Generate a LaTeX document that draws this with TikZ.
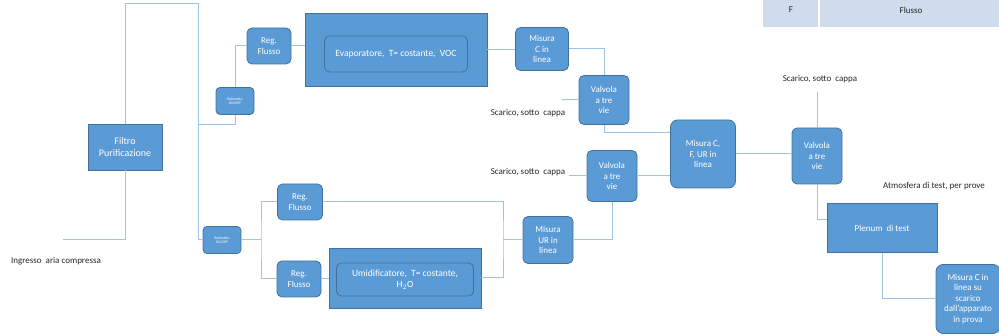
\documentclass[tikz,border=0pt]{standalone}
\usepackage{fontspec}
\setmainfont{Carlito}
\usetikzlibrary{positioning}

\definecolor{boxblue}{RGB}{91,155,213}
\definecolor{boxedge}{RGB}{65,113,156}
\definecolor{wireblue}{RGB}{157,195,230}
\definecolor{tablefill}{RGB}{208,220,238}

\tikzset{
  block/.style={draw=boxedge, fill=boxblue, text=white, align=center, inner sep=1pt,
    line width=0.8pt, font=\fontsize{9}{10.5}\selectfont},
  roundblock/.style={block, rounded corners=5pt},
  tinyblock/.style={roundblock, rounded corners=4pt, font=\fontsize{3.8}{4.4}\selectfont},
  wire/.style={draw=wireblue, line width=1pt},
  note/.style={font=\fontsize{9}{10.5}\selectfont, text=black!85}
}

\begin{document}
\begin{tikzpicture}[x=1pt, y=-1pt]
  \useasboundingbox (0,0) rectangle (999,336);

  % legenda
  \fill[tablefill] (763,0) rectangle (818,27);
  \fill[tablefill] (820,0) rectangle (999,27);
  \node[note] (legF) at (791,10) {F};
  \node[note] (legFlusso) at (911,10) {Flusso};

  % blocchi
  \node[block, minimum width=74, minimum height=46, font=\fontsize{10}{12}\selectfont] (filtro) at (125,147) {Filtro\\Purificazione};
  \node[tinyblock, minimum width=38, minimum height=27] (rub1) at (235,101) {Rubinetto\\ON/OFF};
  \node[tinyblock, minimum width=38, minimum height=27] (rub2) at (222,240) {Rubinetto\\ON/OFF};
  \node[roundblock, minimum width=44, minimum height=36] (reg1) at (269,46) {Reg.\\Flusso};
  \node[roundblock, minimum width=45, minimum height=36] (reg2) at (300,202) {Reg.\\Flusso};
  \node[roundblock, minimum width=44, minimum height=36] (reg3) at (299,279) {Reg.\\Flusso};

  \node[block, minimum width=182, minimum height=73] (evap) at (396,50) {};
  \node[roundblock, minimum width=143, minimum height=36, font=\fontsize{9.5}{11}\selectfont] (evapin) at (396,54) {Evaporatore,\ \ T= costante,\ \ VOC};
  \node[block, minimum width=152, minimum height=60] (umid) at (405,278) {};
  \node[roundblock, minimum width=137, minimum height=33, font=\fontsize{9.5}{11}\selectfont] (umidin) at (405,279.5) {Umidificatore,\ \ T= costante,\\H$_2$O};

  \node[roundblock, minimum width=53, minimum height=43] (misC) at (542,49) {Misura\\C in\\linea};
  \node[roundblock, minimum width=50, minimum height=49] (valv1) at (604,100) {Valvola\\a tre\\vie};
  \node[roundblock, minimum width=50, minimum height=51] (valv2) at (612,176) {Valvola\\a tre\\vie};
  \node[roundblock, minimum width=50, minimum height=47] (misUR) at (548,240) {Misura\\UR in\\linea};
  \node[roundblock, minimum width=65, minimum height=68, rounded corners=7pt] (misCF) at (703,154) {Misura C,\\F, UR in\\linea};
  \node[roundblock, minimum width=50, minimum height=56] (valv3) at (817,156) {Valvola\\a tre\\vie};
  \node[block, minimum width=110, minimum height=49] (plenum) at (882,228) {Plenum\ \ di test};
  \node[roundblock, minimum width=64, minimum height=69, rounded corners=7pt] (misfin) at (968,299) {Misura C in\\linea su\\scarico\\dall'apparato\\in prova};

  % testi
  \node[note] (ingresso) at (56,261) {Ingresso\ \ aria compressa};
  \node[note] (scar1) at (528,113) {Scarico, sotto\ \ cappa};
  \node[note] (scar2) at (528,172) {Scarico, sotto\ \ cappa};
  \node[note] (scar3) at (820,79) {Scarico, sotto\ \ cappa};
  \node[note] (atmos) at (934,186) {Atmosfera di test, per prove};

  % punti liberi
  \coordinate (inlet) at (63,240);
  \coordinate (ttop) at (198,4);
  \coordinate (split) at (198,125);
  \coordinate (fork) at (261,240);
  \coordinate (jn) at (503,240);
  \coordinate (s1) at (562,100);
  \coordinate (s2) at (569,176);
  \coordinate (s3) at (817,92);

  % collegamenti
  \draw[wire] (inlet) -| (filtro.south);
  \draw[wire] (filtro.north) |- (ttop) |- (rub2.west);
  \draw[wire] (split) -| (rub1.south);
  \draw[wire] (rub1.north) |- (reg1.west);
  \draw[wire] (reg1.east) -- (reg1.east -| evap.west);
  \draw[wire] (evap.east) -- (evap.east -| misC.west);
  \draw[wire] (misC.east) -| (valv1.north);
  \draw[wire] (s1) -- (valv1.west);
  \draw[wire] (valv1.south) |- ([yshift=21pt]misCF.west);
  \draw[wire] (s2) -- (valv2.west);
  \draw[wire] (valv2.east) -- (valv2.east -| misCF.west);
  \draw[wire] (valv2.south) |- (misUR.east);
  \draw[wire] (rub2.east) -- (fork);
  \draw[wire] (reg2.west) -| (fork) |- (reg3.west);
  \draw[wire] (reg3.east) -- (reg3.east -| umid.west);
  \draw[wire] (reg2.east) -| (jn) |- (umid.east);
  \draw[wire] (jn) -- (misUR.west);
  \draw[wire] (misCF.east) -- (misCF.east -| valv3.west);
  \draw[wire] (valv3.north) -- (s3);
  \draw[wire] (valv3.south) |- ([yshift=8pt]plenum.west);
  \draw[wire] (plenum.south) |- (misfin.west);
\end{tikzpicture}
\end{document}
